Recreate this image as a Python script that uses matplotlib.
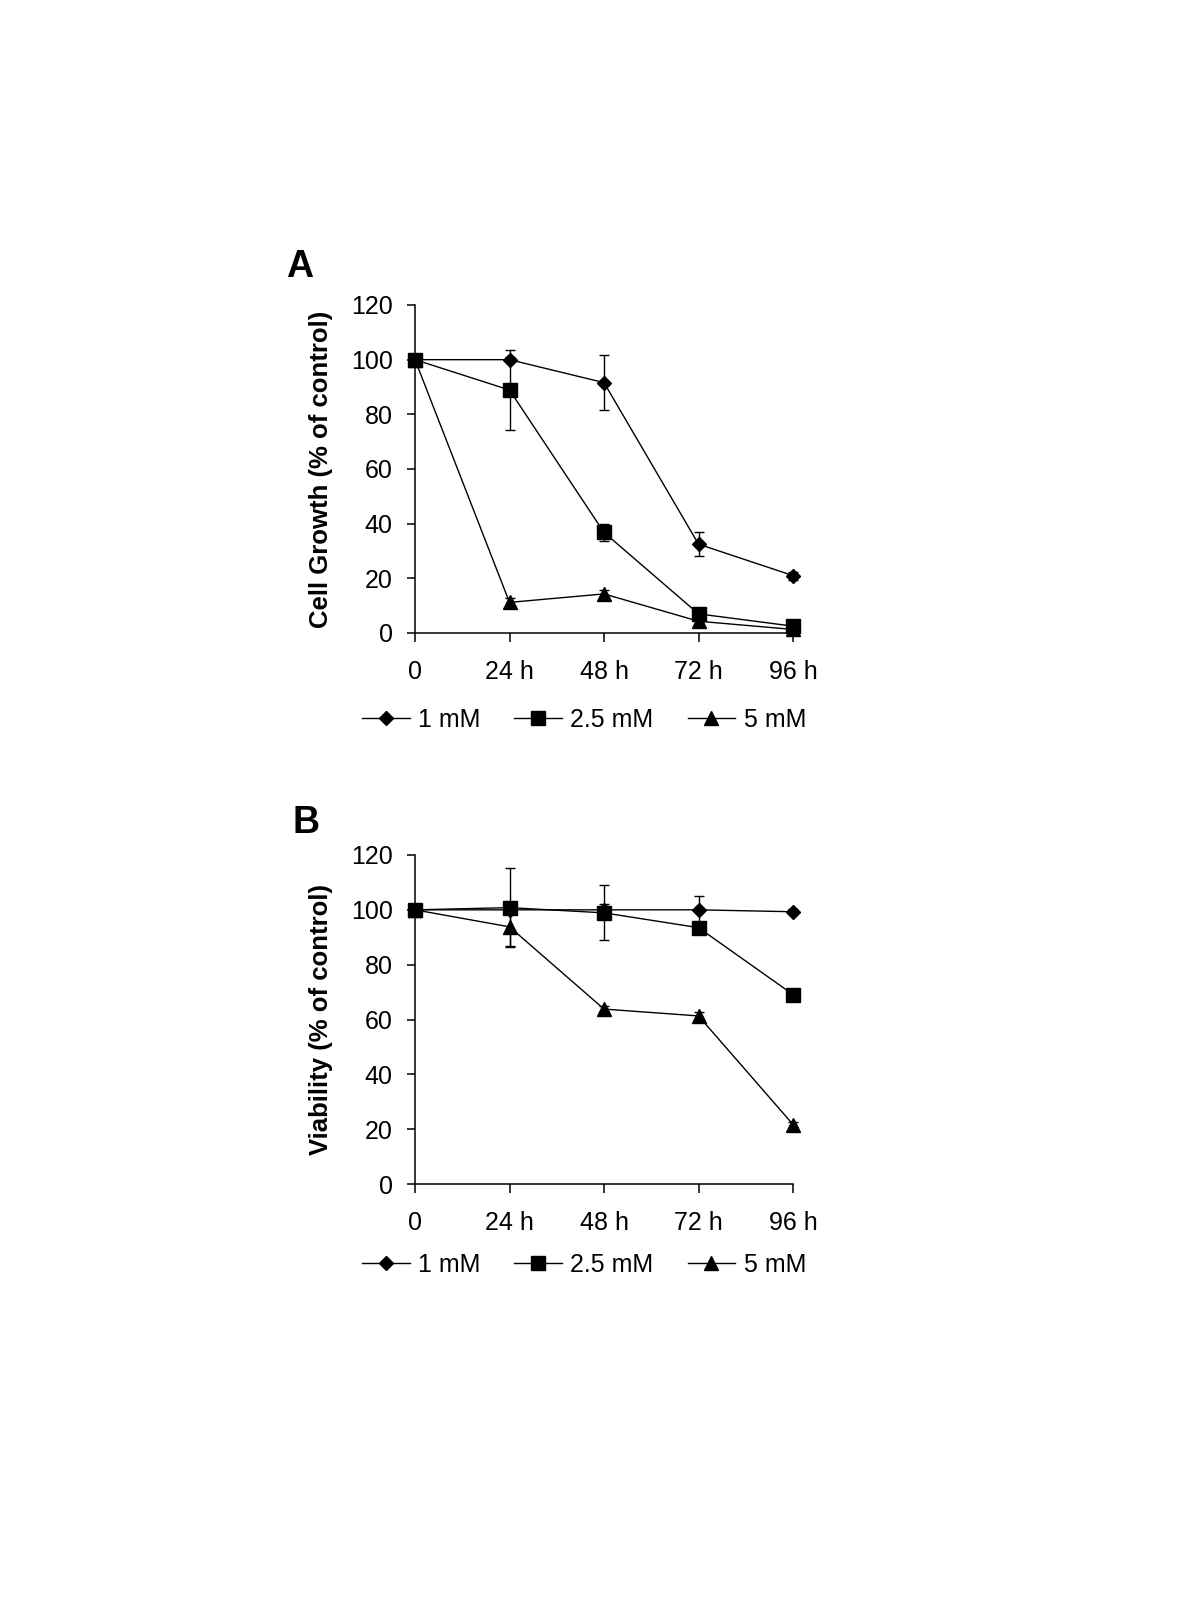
import matplotlib
matplotlib.use("Agg")
import matplotlib.pyplot as plt
import numpy as np

plt.rcParams['font.family'] = ['Liberation Sans', 'DejaVu Sans']

x_pos = [0, 1, 2, 3, 4]
x_labels = ["0", "24 h", "48 h", "72 h", "96 h"]
series_names = ["1 mM", "2.5 mM", "5 mM"]

# Panel A: Cell growth
growth_1mM = [100, 100, 91.6, 32.5, 21.0]
growth_1mM_err = [0, 1, 10, 4.5, 1.5]
growth_25mM = [100, 88.9, 36.8, 7.0, 2.5]
growth_25mM_err = [0, 14.5, 3, 1, 0.5]
growth_5mM = [100, 11.2, 14.3, 4.3, 1.3]
growth_5mM_err = [0, 1.5, 1.5, 0.8, 0.5]

# Panel B: Viability
viab_1mM = [100, 100, 100, 100, 99.3]
viab_1mM_err = [0, 0.5, 2.3, 5, 1]
viab_25mM = [100, 100.8, 98.9, 93.5, 69.1]
viab_25mM_err = [0, 14.3, 10, 1.5, 1]
viab_5mM = [100, 93.8, 63.8, 61.3, 21.7]
viab_5mM_err = [0, 7, 1, 1.5, 1]

yticks = [0, 20, 40, 60, 80, 100, 120]

fig = plt.figure(figsize=(12, 16), dpi=100)
W, H = 1200, 1600

def make_axes(top_px, bottom_px):
    left, right = 415, 793
    return fig.add_axes([left / W, 1 - bottom_px / H, (right - left) / W, (bottom_px - top_px) / H])

markers = ['D', 's', '^']
msizes = [7.5, 9.5, 9.5]

def draw(ax, ys, errs, ylabel):
    for y, e, m, ms, name in zip(ys, errs, markers, msizes, series_names):
        ax.errorbar(x_pos, y, yerr=e, color='black', marker=m, markersize=ms,
                    linewidth=1.0, elinewidth=1.0, capsize=3.5, capthick=1.0,
                    label=name, clip_on=False)
    ax.set_xlim(0, 4)
    ax.set_ylim(0, 120)
    ax.set_yticks(yticks)
    ax.set_xticks(x_pos)
    ax.set_xticklabels(x_labels)
    for s in ['top', 'right']:
        ax.spines[s].set_visible(False)
    for s in ['left', 'bottom']:
        ax.spines[s].set_linewidth(1.1)
    ax.tick_params(axis='y', direction='out', length=6, width=1.1, pad=10, labelsize=18)
    ax.tick_params(axis='x', direction='out', length=6.7, width=1.1, pad=13, labelsize=18)
    ax.set_ylabel(ylabel, fontsize=18.5, fontweight='bold')
    ax.yaxis.set_label_coords(-0.217, 0.5)

axA = make_axes(305, 633)
draw(axA, [growth_1mM, growth_25mM, growth_5mM],
     [growth_1mM_err, growth_25mM_err, growth_5mM_err], "Cell Growth (% of control)")
axB = make_axes(855, 1184)
draw(axB, [viab_1mM, viab_25mM, viab_5mM],
     [viab_1mM_err, viab_25mM_err, viab_5mM_err], "Viability (% of control)")

for ax, ly in [(axA, 720), (axB, 1265)]:
    handles, labels = ax.get_legend_handles_labels()
    handles = [h[0] for h in handles]
    fig.legend(handles, labels, loc='center', bbox_to_anchor=(584 / W, 1 - ly / H),
               ncol=3, frameon=False, fontsize=18, handlelength=1.9,
               handletextpad=0.34, columnspacing=1.36, borderpad=0)

fig.text(300 / W, 1 - 267 / H, "A", fontsize=27, fontweight='bold', ha='center', va='center')
fig.text(306 / W, 1 - 823 / H, "B", fontsize=27, fontweight='bold', ha='center', va='center')

fig.savefig("out.png", dpi=100, facecolor='white')
